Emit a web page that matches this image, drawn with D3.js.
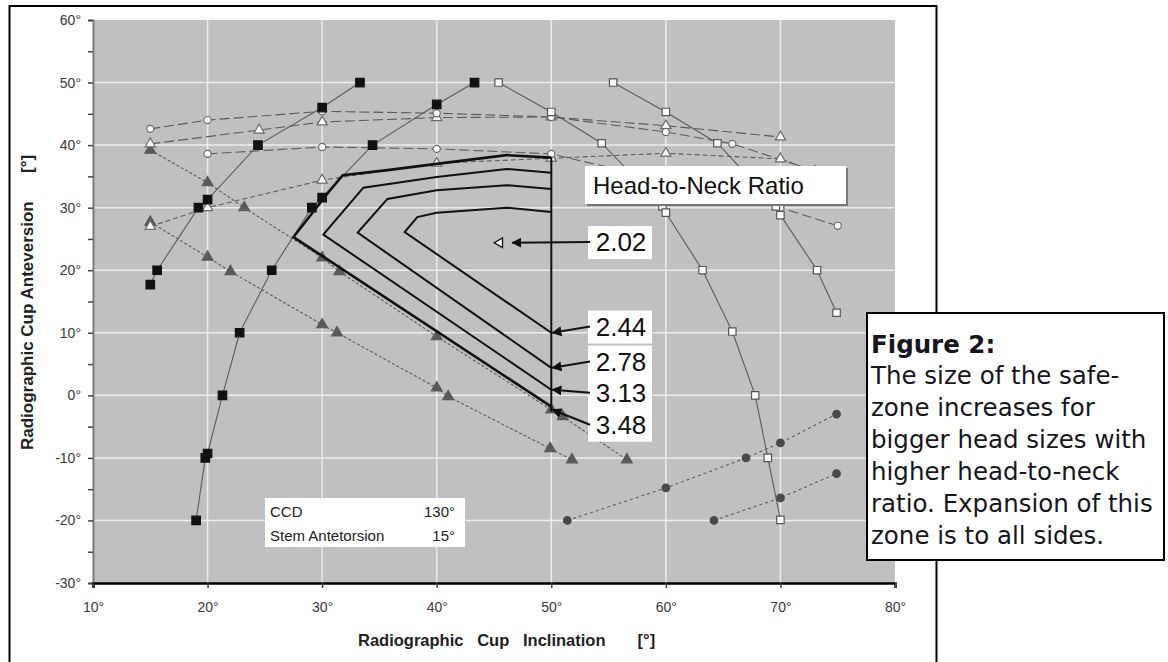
<!DOCTYPE html>
<html>
<head>
<meta charset="utf-8">
<script src="https://cdn.jsdelivr.net/npm/d3@7"></script>
<style>
  body { margin: 0; background: #fff; }
  text { font-family: "Liberation Sans", Arial, sans-serif; }
</style>
</head>
<body>
<div id="chart"></div>
<script>
// values: [cup inclination, cup anteversion] in degrees
const blackSqA = [[15,17.7],[15.6,20],[19.2,30],[20,31.3],[24.4,40],[30,46],[33.3,50]];
const blackSqB = [[19,-20],[19.8,-10],[20,-9.3],[21.3,0],[22.8,10],[25.6,20],[29.1,30],[30,31.6],[34.4,40],[40,46.5],[43.3,50]];
const grayTriC = [[15,39.2],[20,34],[23.2,30],[30,22],[31.5,19.8],[40,9.4],[50,-2.3],[51,-3.4],[56.6,-10.3]];
const grayTriD = [[15,27.7],[20,22.1],[22,19.8],[30,11.3],[31.3,10],[40,1.2],[41,-0.2],[49.9,-8.5],[51.8,-10.3]];
const openCircE = [[15,42.6],[20,44],[30,45.4],[40,45.1],[50,44.5],[60,42.1],[65.8,40.2],[74,35.3]];
const openCircF = [[20,38.6],[30,39.7],[40,39.4],[50,38.6],[70,30],[75,27.1]];
const openTriG = [[15,40.2],[24.5,42.4],[30,43.7],[40,44.4],[50,44.5],[60,43.1],[70,41.3]];
const openTriH = [[15,27],[20,30],[30,34.4],[40,37.1],[50,37.9],[60,38.7],[70,37.8],[73,35.8]];
const openSqI = [[45.4,50],[50,45.3],[54.4,40.3],[59.7,30.2],[60,29.2],[63.2,20],[65.8,10.2],[67.8,0],[68.9,-10],[70,-19.9]];
const openSqJ = [[55.4,50],[60,45.3],[64.5,40.3],[69.6,30.2],[70,28.8],[73.2,20],[74.9,13.2]];
const grayCircK = [[51.4,-20],[60,-14.8],[67,-10],[70,-7.6],[74.9,-3]];
const grayCircL = [[64.2,-20],[70,-16.4],[74.9,-12.5]];

// safe zones per head-to-neck ratio (top edge right->left, apex, back to x=50)
const zone202 = [[45.5,24.4]];
const zone244 = [[50,29.3],[46.1,30],[40,29.2],[38.3,28.5],[37.2,26.1],[50,10]];
const zone278 = [[50,33],[46.1,33.6],[40,32.8],[35.7,31.4],[33.1,26],[50,4.4]];
const zone313 = [[50,35.6],[46.1,36.2],[40,34.9],[33.6,33.2],[30.1,25.7],[50,0.9]];
const zone348 = [[50,38],[46.1,38.4],[40,37],[35.7,36],[31.8,35.2],[30.7,32.8],[27.5,25.3],[50,-1.8]];
const zoneEdge = [[50,38],[50,-2.6]];

const ratioLabels = ["2.02","2.44","2.78","3.13","3.48"];
const ratioLabelAt = [[56,24.5],[56,11],[56,5.4],[56,0.4],[56,-4.7]];
const ratioArrowTo = [[46.6,24.4],[50.1,10],[50.1,4.4],[50.1,0.9],[50.1,-2.3]];

const xTicks = d3.range(10, 81, 10);
const yTicks = d3.range(-30, 61, 5);

const captionLines = ["The size of the safe-","zone increases for","bigger head sizes with","higher head-to-neck","ratio. Expansion of this","zone is to all sides."];

const W = 1168, H = 662;
const PLOT = { left: 93, right: 895, top: 20, bottom: 583 };

const svg = d3.select('#chart').append('svg')
  .attr('width', W).attr('height', H);

svg.append('rect').attr('width', W).attr('height', H).attr('fill', '#fff');

// outer figure frame
svg.append('rect')
  .attr('x', 9.5).attr('y', 6).attr('width', 927).attr('height', 680)
  .attr('fill', 'none').attr('stroke', '#000').attr('stroke-width', 2);

const x = d3.scaleLinear().domain([10, 80]).range([PLOT.left, PLOT.right]);
const y = d3.scaleLinear().domain([-30, 60]).range([PLOT.bottom, PLOT.top]);

// plot background
svg.append('rect')
  .attr('x', PLOT.left).attr('y', PLOT.top)
  .attr('width', PLOT.right - PLOT.left).attr('height', PLOT.bottom - PLOT.top)
  .attr('fill', '#c0c0c0');

// white grid
const grid = svg.append('g');
grid.selectAll('.gx').data(xTicks.filter(d => d > 10 && d < 80)).enter()
  .append('line')
    .attr('x1', d => x(d)).attr('x2', d => x(d))
    .attr('y1', PLOT.top).attr('y2', PLOT.bottom)
    .attr('stroke', '#ececec').attr('stroke-width', 1.5);
grid.selectAll('.gy').data(yTicks.filter(d => d % 10 === 0 && d > -30 && d < 60)).enter()
  .append('line')
    .attr('x1', PLOT.left).attr('x2', PLOT.right)
    .attr('y1', d => y(d)).attr('y2', d => y(d))
    .attr('stroke', '#ececec').attr('stroke-width', 1.5);

// axes
const yAxis = svg.append('g')
  .attr('transform', `translate(${PLOT.left},0)`)
  .call(d3.axisLeft(y).tickValues(yTicks).tickSize(5).tickPadding(7)
    .tickFormat(d => d % 10 === 0 ? d + '°' : ''));
yAxis.select('.domain').attr('stroke', '#7a7a7a').attr('stroke-width', 2);
yAxis.selectAll('.tick line').attr('stroke', '#444').attr('stroke-width', 1.5);
yAxis.selectAll('.tick text').attr('fill', '#3a3a3a').style('font-size', '14px');

const xAxis = svg.append('g')
  .attr('transform', `translate(0,${PLOT.bottom})`)
  .call(d3.axisBottom(x).tickValues(xTicks).tickSize(5).tickPadding(14)
    .tickFormat(d => d + '°'));
xAxis.select('.domain').attr('stroke', '#000').attr('stroke-width', 2.5);
xAxis.selectAll('.tick line').attr('stroke', '#444').attr('stroke-width', 1.5);
xAxis.selectAll('.tick text').attr('fill', '#3a3a3a').style('font-size', '14px');

// axis titles
svg.append('text')
  .attr('x', 358).attr('y', 646)
  .style('font-size', '16.5px').style('font-weight', 'bold').attr('fill', '#222')
  .style('white-space', 'pre')
  .text('Radiographic   Cup   Inclination       [°]');

svg.append('text')
  .attr('transform', 'translate(33,450) rotate(-90)')
  .style('font-size', '17px').style('font-weight', 'bold').attr('fill', '#222')
  .style('white-space', 'pre')
  .text('Radiographic Cup Anteversion      [°]');

const line = d3.line().x(d => x(d[0])).y(d => y(d[1]));

// data series
const series = [
  { data: grayCircK, shape: d3.symbolCircle, size: 45, fill: '#4a4a4a', stroke: '#4a4a4a', dash: '3,3' },
  { data: grayCircL, shape: d3.symbolCircle, size: 45, fill: '#4a4a4a', stroke: '#4a4a4a', dash: '3,3' },
  { data: grayTriD, shape: d3.symbolTriangle, size: 50, fill: '#5a5a5a', stroke: '#5a5a5a', dash: '3,2' },
  { data: grayTriC, shape: d3.symbolTriangle, size: 50, fill: '#5a5a5a', stroke: '#5a5a5a', dash: '3,2' },
  { data: openTriH, shape: d3.symbolTriangle, size: 45, fill: '#fff', stroke: '#6a6a6a', dash: '5,3' },
  { data: openTriG, shape: d3.symbolTriangle, size: 45, fill: '#fff', stroke: '#6a6a6a', dash: '10,4' },
  { data: openCircF, shape: d3.symbolCircle, size: 40, fill: '#fff', stroke: '#6a6a6a', dash: '10,4' },
  { data: openCircE, shape: d3.symbolCircle, size: 40, fill: '#fff', stroke: '#6a6a6a', dash: '10,4' },
  { data: openSqJ, shape: d3.symbolSquare, size: 55, fill: '#fff', stroke: '#555', dash: null },
  { data: openSqI, shape: d3.symbolSquare, size: 55, fill: '#fff', stroke: '#555', dash: null },
  { data: blackSqB, shape: d3.symbolSquare, size: 72, fill: '#111', stroke: '#111', dash: null },
  { data: blackSqA, shape: d3.symbolSquare, size: 72, fill: '#111', stroke: '#111', dash: null }
];

const plotG = svg.append('g');
series.forEach(s => {
  plotG.append('path')
    .attr('d', line(s.data))
    .attr('fill', 'none')
    .attr('stroke', '#5c5c5c')
    .attr('stroke-width', 1.1)
    .attr('stroke-dasharray', s.dash);
});
series.forEach(s => {
  plotG.selectAll(null).data(s.data).enter()
    .append('path')
      .attr('transform', d => `translate(${x(d[0])},${y(d[1])})`)
      .attr('d', d3.symbol().type(s.shape).size(s.size))
      .attr('fill', s.fill)
      .attr('stroke', s.stroke)
      .attr('stroke-width', 1.2);
});

// safe zones
const zoneG = svg.append('g');
[zone244, zone278, zone313, zone348].forEach((z, i) => {
  zoneG.append('path')
    .attr('d', line(z))
    .attr('fill', 'none')
    .attr('stroke', '#111')
    .attr('stroke-width', i === 3 ? 2.6 : 2)
    .attr('stroke-linejoin', 'miter');
});
zoneG.append('path').attr('d', line(zoneEdge))
  .attr('stroke', '#111').attr('stroke-width', 2).attr('fill', 'none');
zoneG.selectAll(null).data(zone202).enter()
  .append('path')
    .attr('transform', d => `translate(${x(d[0])},${y(d[1])}) rotate(-90)`)
    .attr('d', d3.symbol().type(d3.symbolTriangle).size(40))
    .attr('fill', '#fff').attr('stroke', '#111').attr('stroke-width', 1.3);

// ratio labels + arrows
svg.append('defs').append('marker')
  .attr('id', 'arrow').attr('viewBox', '0 0 10 10')
  .attr('refX', 9).attr('refY', 5)
  .attr('markerWidth', 5).attr('markerHeight', 5)
  .attr('orient', 'auto')
  .append('path').attr('d', 'M10,5 L0,0 L0,10 Z').attr('fill', '#111');

const labG = svg.append('g');
ratioLabels.forEach((t, i) => {
  const cx = x(ratioLabelAt[i][0]), cy = y(ratioLabelAt[i][1]);
  labG.append('rect')
    .attr('x', cx - 32).attr('y', cy - 16).attr('width', 64).attr('height', 33)
    .attr('fill', '#fff');
});
ratioLabels.forEach((t, i) => {
  const cx = x(ratioLabelAt[i][0]), cy = y(ratioLabelAt[i][1]);
  labG.append('line')
    .attr('x1', cx - 30).attr('y1', cy)
    .attr('x2', x(ratioArrowTo[i][0])).attr('y2', y(ratioArrowTo[i][1]))
    .attr('stroke', '#111').attr('stroke-width', 2)
    .attr('marker-end', 'url(#arrow)');
  labG.append('text')
    .attr('x', cx + 1).attr('y', cy + 9)
    .attr('text-anchor', 'middle')
    .style('font-size', '26px').attr('fill', '#111')
    .text(t);
});

// title box
svg.append('rect').attr('x', 587).attr('y', 168).attr('width', 261).attr('height', 38).attr('fill', '#777');
svg.append('rect').attr('x', 585).attr('y', 166).attr('width', 261).attr('height', 38).attr('fill', '#fff');
svg.append('text')
  .attr('x', 593).attr('y', 194)
  .style('font-size', '24px').attr('fill', '#111')
  .text('Head-to-Neck Ratio');

// CCD / stem box
svg.append('rect').attr('x', 265).attr('y', 498).attr('width', 200).attr('height', 49).attr('fill', '#fff');
const info = svg.append('g').style('font-size', '15px').attr('fill', '#222');
info.append('text').attr('x', 270).attr('y', 517).text('CCD');
info.append('text').attr('x', 455).attr('y', 517).attr('text-anchor', 'end').text('130°');
info.append('text').attr('x', 270).attr('y', 541).text('Stem Antetorsion');
info.append('text').attr('x', 455).attr('y', 541).attr('text-anchor', 'end').text('15°');

// figure caption
svg.append('rect')
  .attr('x', 867).attr('y', 313).attr('width', 297).attr('height', 247)
  .attr('fill', '#fff').attr('stroke', '#000').attr('stroke-width', 2);
const cap = svg.append('g').attr('fill', '#161620').style('font-size', '24.5px');
cap.append('text').attr('x', 871).attr('y', 353)
  .style('font-weight', 'bold').style('font-family', '"DejaVu Sans", sans-serif').text('Figure 2:');
cap.selectAll(null).data(captionLines).enter()
  .append('text')
    .attr('x', 871)
    .attr('y', (d, i) => 384 + i * 32)
    .style('font-family', '"DejaVu Sans", sans-serif')
    .text(d => d);
</script>
</body>
</html>
